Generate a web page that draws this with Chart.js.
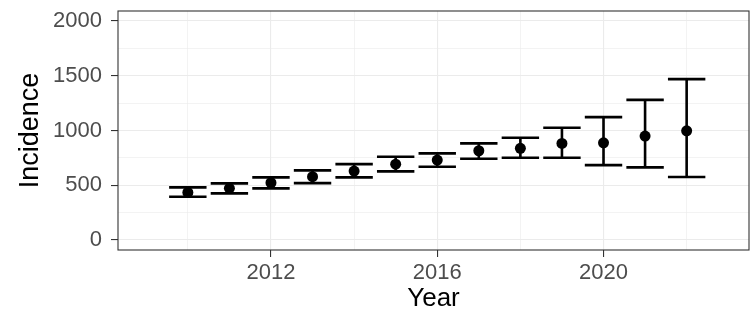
<!DOCTYPE html>
<html>
<head>
<meta charset="utf-8">
<script src="https://cdn.jsdelivr.net/npm/chart.js@4"></script>
<style>
  body { margin: 0; background: #fff; }
</style>
</head>
<body>
<canvas id="chart" width="750" height="314"></canvas>
<script>
// data
const years = [2010, 2011, 2012, 2013, 2014, 2015, 2016, 2017, 2018, 2019, 2020, 2021, 2022];
const incidence = [435, 472, 523, 578, 630, 693, 730, 815, 837, 882, 888, 949, 997];
const lower = [395, 426, 472, 520, 572, 627, 669, 742, 751, 751, 684, 663, 575];
const upper = [481, 517, 572, 636, 693, 760, 791, 882, 934, 1025, 1122, 1280, 1469];

const xTicks = [2010, 2012, 2014, 2016, 2018, 2020, 2022];
const xLabels = [2012, 2016, 2020];
const yTicks = [0, 250, 500, 750, 1000, 1250, 1500, 1750, 2000];
const yLabels = [0, 500, 1000, 1500, 2000];

const capWidth = 0.9;
const fontFamily = "'Liberation Sans', Arial, sans-serif";

const points = years.map((y, i) => ({ x: y, y: incidence[i] }));

// error bars and the panel border
const errorBars = {
  id: 'errorBars',
  beforeDatasetsDraw(chart) {
    const ctx = chart.ctx;
    const xs = chart.scales.x, ys = chart.scales.y;
    ctx.save();
    ctx.strokeStyle = '#000';
    ctx.lineWidth = 2.6;
    ctx.lineCap = 'butt';
    years.forEach((yr, i) => {
      const px = xs.getPixelForValue(yr);
      const x0 = xs.getPixelForValue(yr - capWidth / 2);
      const x1 = xs.getPixelForValue(yr + capWidth / 2);
      const lo = ys.getPixelForValue(lower[i]);
      const hi = ys.getPixelForValue(upper[i]);
      ctx.beginPath();
      ctx.moveTo(px, lo); ctx.lineTo(px, hi);
      ctx.moveTo(x0, lo); ctx.lineTo(x1, lo);
      ctx.moveTo(x0, hi); ctx.lineTo(x1, hi);
      ctx.stroke();
    });
    ctx.restore();
  },
  afterDraw(chart) {
    const a = chart.chartArea, ctx = chart.ctx;
    ctx.save();
    ctx.strokeStyle = '#333333';
    ctx.lineWidth = 1.1;
    ctx.strokeRect(a.left, a.top, a.right - a.left, a.bottom - a.top);
    ctx.restore();
  }
};

function isMajor(list, v) { return list.indexOf(v) !== -1; }

new Chart(document.getElementById('chart'), {
  type: 'scatter',
  data: {
    datasets: [{
      data: points,
      backgroundColor: '#000',
      borderWidth: 0,
      pointRadius: 5.5,
      pointHoverRadius: 5.5
    }]
  },
  options: {
    responsive: false,
    animation: false,
    layout: { autoPadding: false, padding: { top: 11, right: 1, left: 0, bottom: 0 } },
    plugins: { legend: { display: false }, tooltip: { enabled: false } },
    scales: {
      x: {
        type: 'linear',
        min: 2008.32,
        max: 2023.5,
        afterBuildTicks(scale) { scale.ticks = xTicks.map(v => ({ value: v })); },
        afterFit(scale) {
          scale.height = 64;
          scale.paddingLeft = 0;
          scale.paddingRight = 0;
        },
        border: { display: false },
        grid: {
          color: '#EBEBEB',
          lineWidth: c => isMajor(xLabels, c.tick.value) ? 1.1 : 0.6,
          tickColor: c => isMajor(xLabels, c.tick.value) ? '#333333' : 'rgba(0,0,0,0)',
          tickLength: 7,
          tickWidth: 1.1
        },
        ticks: {
          autoSkip: false,
          maxRotation: 0,
          padding: 3,
          color: '#4D4D4D',
          font: { family: fontFamily, size: 22 },
          callback: v => isMajor(xLabels, v) ? String(v) : ''
        },
        title: {
          display: true,
          text: 'Year',
          color: '#000',
          font: { family: fontFamily, size: 26 },
          padding: { top: 0, bottom: 0 }
        }
      },
      y: {
        type: 'linear',
        min: -91,
        max: 2091,
        afterBuildTicks(scale) { scale.ticks = yTicks.map(v => ({ value: v })); },
        afterFit(scale) {
          scale.width = 118;
          scale.paddingTop = 0;
          scale.paddingBottom = 0;
        },
        border: { display: false },
        grid: {
          color: '#EBEBEB',
          lineWidth: c => isMajor(yLabels, c.tick.value) ? 1.1 : 0.6,
          tickColor: c => isMajor(yLabels, c.tick.value) ? '#333333' : 'rgba(0,0,0,0)',
          tickLength: 7,
          tickWidth: 1.1
        },
        ticks: {
          autoSkip: false,
          padding: 9,
          color: '#4D4D4D',
          font: { family: fontFamily, size: 22, lineHeight: 1 },
          callback: v => isMajor(yLabels, v) ? String(v) : ''
        },
        title: {
          display: true,
          text: 'Incidence',
          color: '#000',
          font: { family: fontFamily, size: 27 },
          padding: { top: 14, bottom: 0 }
        }
      }
    }
  },
  plugins: [errorBars]
});
</script>
</body>
</html>
